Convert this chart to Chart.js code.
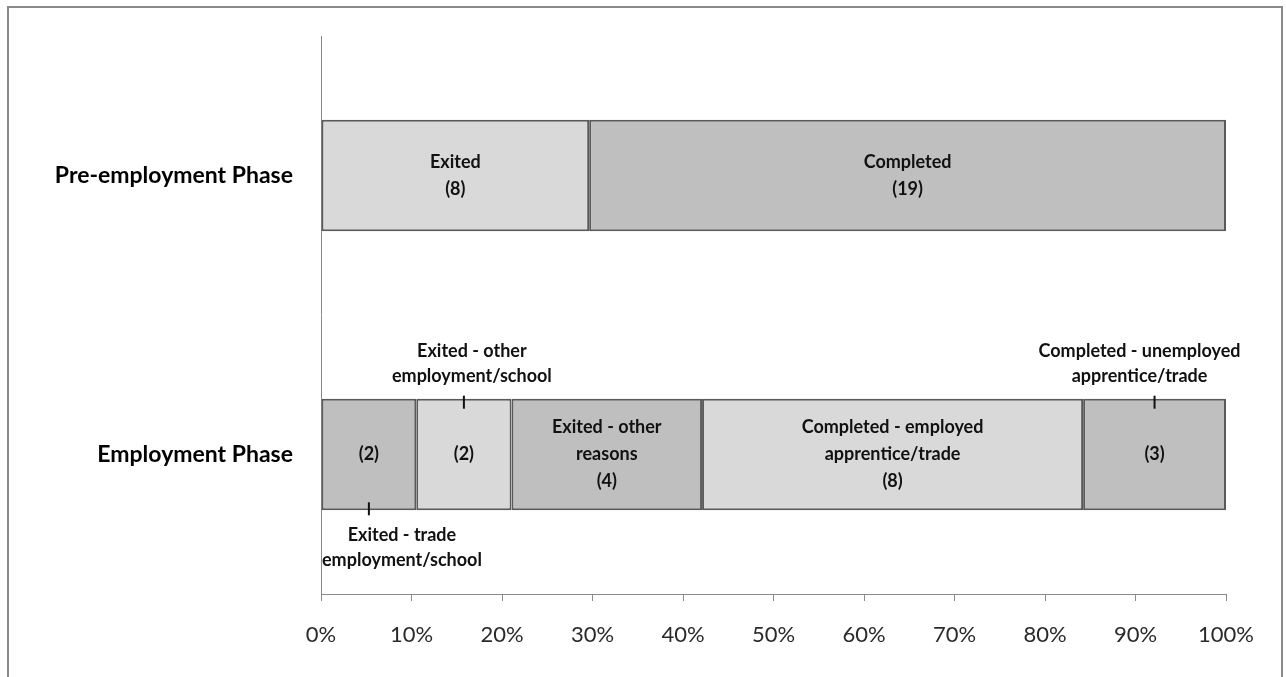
<!DOCTYPE html>
<html>
<head>
<meta charset="utf-8">
<script src="https://cdn.jsdelivr.net/npm/chart.js@4.4.1/dist/chart.umd.min.js"></script>
<style>
  html, body { margin: 0; padding: 0; background: #fff; }
  #wrap { position: relative; width: 1286px; height: 677px; overflow: hidden; }
  #frame { position: absolute; left: 7px; top: 6px; width: 1276px; height: 720px; border: 2px solid #8a8a8a; box-sizing: border-box; pointer-events: none; }
  canvas { position: absolute; left: 0; top: 0; }
</style>
</head>
<body>
<div id="wrap">
  <canvas id="myChart" width="1286" height="677"></canvas>
  <div id="frame"></div>
</div>
<script>
// categories (top to bottom)
const categories = ["Pre-employment Phase", "Employment Phase"];

// counts per segment, left to right
const preCounts = [8, 19];
const empCounts = [2, 2, 4, 8, 3];

// segment names
const preNames = [["Exited"], ["Completed"]];
const empNames = [
    ["Exited - trade", "employment/school"],
    ["Exited - other", "employment/school"],
    ["Exited - other", "reasons"],
    ["Completed - employed", "apprentice/trade"],
    ["Completed - unemployed", "apprentice/trade"],
];

// where the name goes: inside the bar, above it or below it
const empNamePlace = ["below", "above", "inside", "inside", "above"];

const tickLabels = ["0%", "10%", "20%", "30%", "40%", "50%", "60%", "70%", "80%", "90%", "100%"];

const LIGHT = "#d9d9d9";
const DARK = "#bfbfbf";
const preColors = [LIGHT, DARK];
const empColors = [DARK, LIGHT, DARK, LIGHT, DARK];

// horizontal nudge of the callout text relative to its tick (px)
const calloutShift = [0, 8, 0, 0, -15];

function toPct(arr) {
    let total = arr.reduce((a, b) => a + b, 0);
    return arr.map((v) => (v / total) * 100);
}

const prePct = toPct(preCounts);
const empPct = toPct(empCounts);

let datasets = [];
for (let i = 0; i < empCounts.length; i++) {
    datasets.push({
        label: "seg" + i,
        data: [i < prePct.length ? prePct[i] : null, empPct[i]],
        backgroundColor: [preColors[i] || LIGHT, empColors[i]],
        borderColor: "#5a5a5a",
        borderWidth: 2,
        borderSkipped: false,
    });
}

const FONT = "Lato, 'Open Sans', sans-serif";

const barLabels = {
    id: "barLabels",
    afterDatasetsDraw(chart) {
        const ctx = chart.ctx;
        ctx.save();
        ctx.fillStyle = "#111";
        ctx.textAlign = "center";
        ctx.textBaseline = "middle";
        ctx.font = "bold 18px " + FONT;
        const lh = 27;
        chart.data.datasets.forEach((ds, i) => {
            const meta = chart.getDatasetMeta(i);
            meta.data.forEach((bar, j) => {
                if (ds.data[j] == null) return;
                const cx = (bar.x + bar.base) / 2;
                const cy = bar.y;
                const half = bar.height / 2;
                let lines, place;
                if (j === 0) {
                    lines = preNames[i].concat(["(" + preCounts[i] + ")"]);
                    place = "inside";
                } else {
                    place = empNamePlace[i];
                    lines = place === "inside"
                        ? empNames[i].concat(["(" + empCounts[i] + ")"])
                        : ["(" + empCounts[i] + ")"];
                }
                let y0 = cy - ((lines.length - 1) * lh) / 2;
                lines.forEach((t, k) => ctx.fillText(t, cx, y0 + k * lh));

                if (place === "above" || place === "below") {
                    ctx.strokeStyle = "#111";
                    ctx.lineWidth = 2;
                    ctx.beginPath();
                    if (place === "above") {
                        ctx.moveTo(cx, cy - half - 3);
                        ctx.lineTo(cx, cy - half + 10);
                    } else {
                        ctx.moveTo(cx, cy + half - 8);
                        ctx.lineTo(cx, cy + half + 5);
                    }
                    ctx.stroke();
                    const names = empNames[i];
                    // keep the callout text inside the plot area
                    let w = Math.max(...names.map((n) => ctx.measureText(n).width));
                    let textX = Math.max(cx + calloutShift[i], chart.chartArea.left + w / 2 + 1);
                    if (place === "above") {
                        names.forEach((n, k) => ctx.fillText(n, textX, cy - half - 48 + k * 25));
                    } else {
                        names.forEach((n, k) => ctx.fillText(n, textX, cy + half + 25 + k * 25));
                    }
                }
            });
        });
        ctx.restore();
    },
};

var ctx = document.getElementById("myChart").getContext("2d");
var myChart = new Chart(ctx, {
    type: "bar",
    data: {
        labels: categories,
        datasets: datasets,
    },
    options: {
        indexAxis: "y",
        responsive: false,
        animation: false,
        barPercentage: 0.4,
        categoryPercentage: 1,
        layout: { padding: { top: 36, right: 60, left: 0, bottom: 0 } },
        plugins: {
            legend: { display: false },
            tooltip: { enabled: false },
        },
        scales: {
            x: {
                stacked: true,
                min: 0,
                max: 100,
                ticks: {
                    stepSize: 10,
                    padding: 21,
                    color: "#2a2a2a",
                    font: { family: FONT, size: 22 },
                    callback: (v, idx) => tickLabels[idx],
                },
                grid: {
                    drawOnChartArea: false,
                    drawTicks: true,
                    tickLength: 7,
                    tickColor: "#8a8a8a",
                },
                border: { color: "#8a8a8a", width: 1 },
                afterFit: (scale) => { scale.height = 83; },
            },
            y: {
                stacked: true,
                ticks: {
                    padding: 28,
                    color: "#000",
                    font: { family: FONT, size: 23, weight: "bold" },
                },
                grid: { display: false, drawTicks: false },
                border: { color: "#8a8a8a", width: 1 },
                afterFit: (scale) => {
                    scale.width = 321;
                    scale.paddingTop = 0;
                    scale.paddingBottom = 0;
                },
            },
        },
    },
    plugins: [barLabels],
});
</script>
</body>
</html>
